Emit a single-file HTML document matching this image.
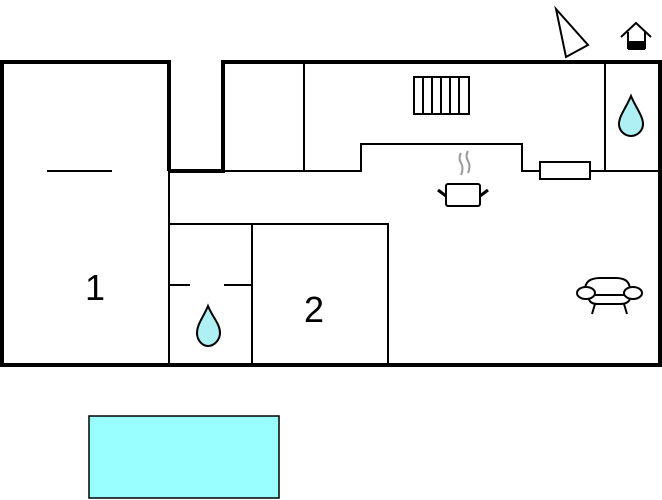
<!DOCTYPE html>
<html><head><style>body{margin:0;background:#fff}svg{display:block}</style></head><body>
<svg width="662" height="500" viewBox="0 0 662 500" xmlns="http://www.w3.org/2000/svg">
<g fill="none" stroke="#000" stroke-width="2">
<line x1="169" y1="171" x2="169" y2="365"/>
<line x1="304" y1="62" x2="304" y2="171"/>
<polyline points="223,171 361,171 361,144 522,144 522,171 540,171"/>
<line x1="590" y1="171" x2="660" y2="171"/>
<rect x="540" y="162" width="50" height="17" fill="#fff"/>
<line x1="605" y1="62" x2="605" y2="171"/>
<polyline points="169,224 388,224 388,365"/>
<line x1="252" y1="224" x2="252" y2="365"/>
<line x1="169" y1="285" x2="190" y2="285"/>
<line x1="224" y1="285" x2="252" y2="285"/>
<line x1="47" y1="171" x2="112" y2="171"/>
<rect x="414" y="77" width="55" height="37"/>
<line x1="423" y1="77" x2="423" y2="114"/><line x1="432" y1="77" x2="432" y2="114"/><line x1="441" y1="77" x2="441" y2="114"/><line x1="450" y1="77" x2="450" y2="114"/><line x1="459" y1="77" x2="459" y2="114"/>
<rect x="446" y="184" width="34" height="22" rx="2"/>
<line x1="438" y1="190" x2="446" y2="196" stroke-width="3"/><line x1="480" y1="196" x2="488" y2="190" stroke-width="3"/>
<polygon points="556,9 588,45 566,57"/>
<polyline points="621,37 636,23 651,37"/>
<line x1="628" y1="32" x2="628" y2="49"/><line x1="645" y1="32" x2="645" y2="49"/>
<path d="M585,290 Q585,278 600,278 L616,278 Q630,278 630,290"/>
<ellipse cx="586" cy="293" rx="9" ry="6" fill="#fff"/><ellipse cx="633" cy="293" rx="9" ry="6" fill="#fff"/>
<line x1="595" y1="295" x2="624" y2="295"/>
<path d="M589,299 Q590,304 598,304 L620,304 Q628,304 630,299"/>
<line x1="595" y1="304" x2="592" y2="314"/><line x1="624" y1="304" x2="627" y2="314"/>
</g>
<g fill="none" stroke="#999" stroke-width="2">
<path d="M461,153 q-3,5 0,10 q3,5 0,12"/><path d="M468,151 q-3,5 0,10 q3,5 0,12"/>
</g>
<rect x="628" y="41" width="17" height="9" fill="#000"/>
<g fill="#aef0f4" stroke="#000" stroke-width="2">
<path d="M631,96 C626,108 619,116 619,124 C619,131 625,136 631,136 C637,136 643,131 643,124 C643,116 636,108 631,96Z"/>
<path d="M208,306 C203,318 197,324 197,333 C197,340 202,346 208,346 C214,346 220,340 220,333 C220,324 213,318 208,306Z"/>
</g>
<g fill="none" stroke="#000" stroke-width="4">
<polyline points="169,171 169,62 2,62 2,365 660,365 660,62 223,62 223,171 169,171"/>
</g>
<rect x="89" y="416" width="190" height="82" fill="#99ffff" stroke="#000" stroke-width="1.5"/>
<g font-family="Liberation Sans, sans-serif" font-size="36" fill="#000" text-anchor="middle">
<text x="95" y="300">1</text><text x="314" y="322">2</text>
</g>
</svg>
</body></html>
